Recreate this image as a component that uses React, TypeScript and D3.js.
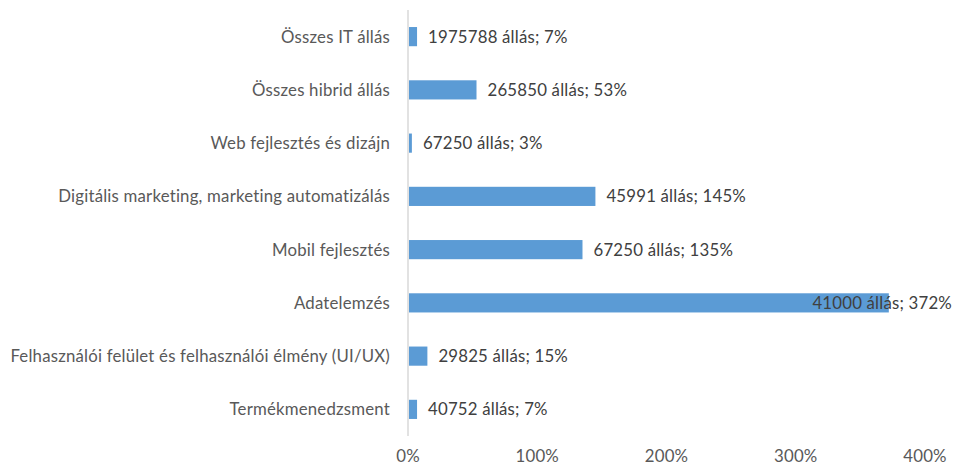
import { useEffect, useRef } from "react"
import * as d3 from "d3"

const categories = [
  "Összes IT állás",
  "Összes hibrid állás",
  "Web fejlesztés és dizájn",
  "Digitális marketing, marketing automatizálás",
  "Mobil fejlesztés",
  "Adatelemzés",
  "Felhasználói felület és felhasználói élmény (UI/UX)",
  "Termékmenedzsment",
]
const jobs = [1975788, 265850, 67250, 45991, 67250, 41000, 29825, 40752]
const percents = [7, 53, 3, 145, 135, 372, 15, 7]
const ticks = [0, 100, 200, 300, 400]

const W = 957
const H = 467
const FONT = "Lato, sans-serif"
const FS = 16.8
const LS = 0.2

export default function App() {
  const svgRef = useRef<SVGSVGElement | null>(null)

  useEffect(() => {
    const svg = d3.select(svgRef.current)
    svg.selectAll("*").remove()

    const margin = { top: 10, right: 32, bottom: 31, left: 408 }

    const x = d3
      .scaleLinear()
      .domain([0, 400])
      .range([margin.left, W - margin.right])

    const y = d3
      .scaleBand()
      .domain(categories)
      .range([margin.top, H - margin.bottom])
      .paddingInner(0.64)
      .paddingOuter(0.32)

    // bars
    svg
      .selectAll(".bar")
      .data(categories)
      .enter()
      .append("rect")
      .attr("x", x(0) + 1)
      .attr("y", (d) => y(d)!)
      .attr("width", (_, i) => Math.max(0, x(percents[i]) - x(0) - 1))
      .attr("height", y.bandwidth())
      .attr("fill", "#5B9BD5")

    // vertical axis line
    svg
      .append("line")
      .attr("x1", x(0))
      .attr("x2", x(0))
      .attr("y1", margin.top)
      .attr("y2", H - margin.bottom)
      .attr("stroke", "#D9D9D9")
      .attr("stroke-width", 1.5)

    // category labels
    svg
      .selectAll(".cat")
      .data(categories)
      .enter()
      .append("text")
      .attr("x", x(0) - 18)
      .attr("y", (d) => y(d)! + y.bandwidth() / 2)
      .attr("dy", "0.35em")
      .attr("text-anchor", "end")
      .attr("font-family", FONT)
      .attr("font-size", FS)
      .attr("letter-spacing", LS)
      .attr("fill", "#595959")
      .text((d) => d)

    // value labels (moved inside the bar when they would run off the edge)
    svg
      .selectAll(".val")
      .data(categories)
      .enter()
      .append("text")
      .attr("y", (d) => y(d)! + y.bandwidth() / 2)
      .attr("dy", "0.35em")
      .attr("font-family", FONT)
      .attr("font-size", FS)
      .attr("letter-spacing", LS)
      .attr("fill", "#404040")
      .text((_, i) => `${jobs[i]} állás; ${percents[i]}%`)
      .each(function (_, i) {
        const el = this as SVGTextElement
        const w = el.getComputedTextLength()
        let px = x(percents[i]) + 11
        if (px + w > W - 5) px = W - 5 - w
        el.setAttribute("x", String(px))
      })

    // tick labels
    svg
      .selectAll(".tick")
      .data(ticks)
      .enter()
      .append("text")
      .attr("x", (d) => x(d))
      .attr("y", H - 5)
      .attr("text-anchor", "middle")
      .attr("font-family", FONT)
      .attr("font-size", FS)
      .attr("letter-spacing", LS)
      .attr("fill", "#595959")
      .text((d) => `${d}%`)
  }, [])

  return (
    <svg
      ref={svgRef}
      width={W}
      height={H}
      style={{ position: "absolute", left: 0, top: 0, background: "white" }}
    />
  )
}
